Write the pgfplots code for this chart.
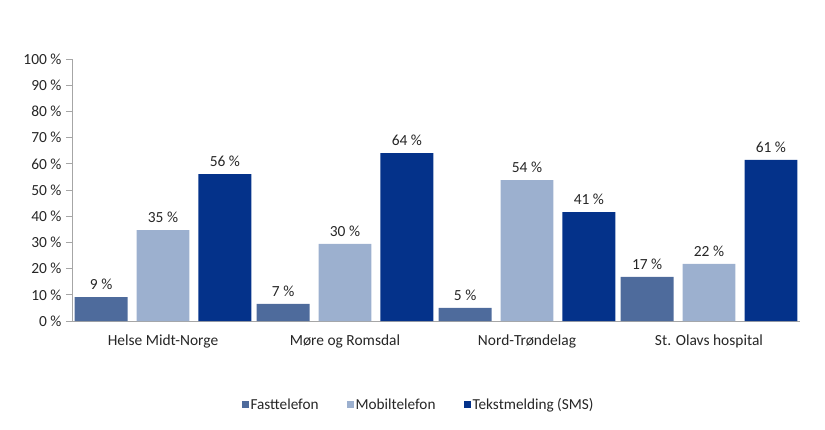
\documentclass[border=0pt]{standalone}
\usepackage{fontspec}
\setmainfont{Carlito}
\usepackage{pgfplots}
\pgfplotsset{compat=1.18}
\definecolor{cFast}{HTML}{4E6B9C}
\definecolor{cMob}{HTML}{9CB0CF}
\definecolor{cSMS}{HTML}{04328A}
\definecolor{cAxis}{HTML}{A6A6A6}
\definecolor{cText}{HTML}{262626}
\begin{document}
\begin{tikzpicture}[x=1bp,y=1bp]
\path[use as bounding box] (0,0) rectangle (825,429);
\begin{axis}[
  at={(72bp,108bp)}, anchor=south west,
  scale only axis, width=728bp, height=262bp,
  xmin=-0.5, xmax=3.5, ymin=0, ymax=100,
  axis x line*=bottom, axis y line*=left,
  axis line style={draw=cAxis, line width=0.8pt, -},
  ybar, bar width=0.29,
  xtick={0,1,2,3},
  xticklabels={Helse Midt-Norge, Møre og Romsdal, Nord-Trøndelag, St. Olavs hospital},
  x tick style={draw=none},
  extra x ticks={-0.5,0.5,1.5,2.5,3.5},
  extra x tick labels={},
  extra x tick style={tick style={draw=cAxis, line width=0.8pt}, major tick length=6bp, tick align=outside},
  ytick={0,10,...,100},
  yticklabels={0 \%,10 \%,20 \%,30 \%,40 \%,50 \%,60 \%,70 \%,80 \%,90 \%,100 \%},
  y tick style={draw=cAxis, line width=0.8pt},
  major tick length=6bp, tick align=outside,
  tick label style={font=\fontsize{15.5}{17}\selectfont, text=cText},
  yticklabel style={xshift=-1bp},
  xticklabel style={yshift=-4bp},
  nodes near coords,
  point meta=explicit symbolic,
  every node near coord/.append style={font=\fontsize{15.5}{17}\selectfont, text=cText, yshift=4bp},
  legend style={at={(0.476,-0.32)}, anchor=center, draw=none, legend columns=3,
    font=\fontsize{15.3}{17}\selectfont, text=cText,
    /tikz/every even column/.append style={column sep=26bp}},
  legend image code/.code={\fill[#1] (0bp,-3.5bp) rectangle (7bp,3.5bp);},
]
\addplot[fill=cFast, draw=none, bar shift=-0.34] coordinates {(0,9.1) [9 \%] (1,6.5) [7 \%] (2,5.0) [5 \%] (3,16.8) [17 \%]};
\addplot[fill=cMob, draw=none, bar shift=0] coordinates {(0,34.7) [35 \%] (1,29.4) [30 \%] (2,53.8) [54 \%] (3,21.8) [22 \%]};
\addplot[fill=cSMS, draw=none, bar shift=0.34] coordinates {(0,56.1) [56 \%] (1,64.1) [64 \%] (2,41.6) [41 \%] (3,61.5) [61 \%]};
\legend{Fasttelefon, Mobiltelefon, Tekstmelding (SMS)}
\end{axis}
\end{tikzpicture}
\end{document}
